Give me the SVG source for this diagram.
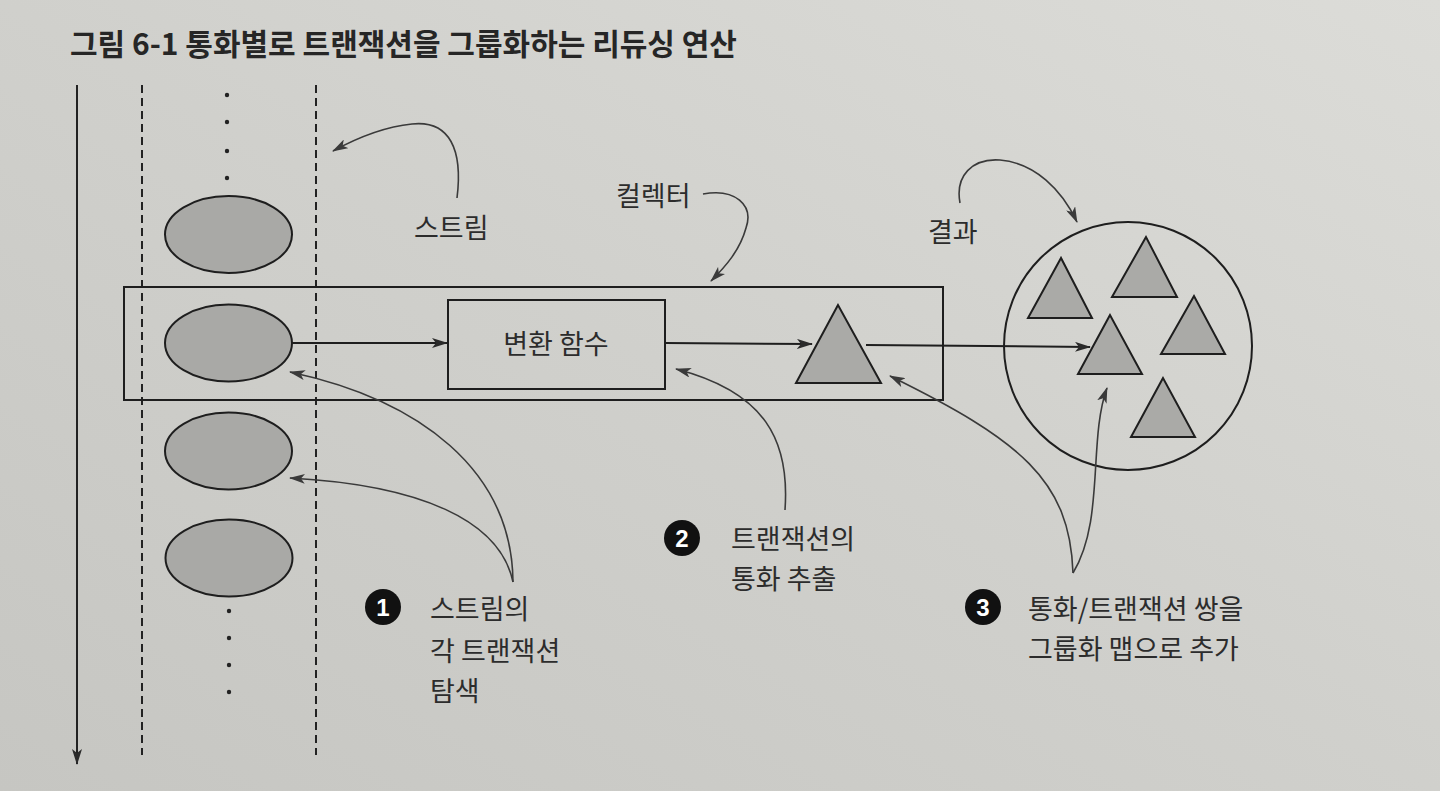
<svg xmlns="http://www.w3.org/2000/svg" width="1440" height="791" viewBox="0 0 1440 791">
<defs>
<linearGradient id="bg" x1="0" y1="1" x2="1" y2="0">
<stop offset="0" stop-color="#c6c6c2"/>
<stop offset="0.5" stop-color="#d0d0cc"/>
<stop offset="1" stop-color="#dcdcd8"/>
</linearGradient>
<marker id="ah" markerUnits="userSpaceOnUse" markerWidth="16" markerHeight="10" refX="15" refY="5" orient="auto">
<path d="M0,0 L16,5 L0,10 L4,5 Z" fill="#2a2a2a"/>
</marker>
<marker id="ahs" markerUnits="userSpaceOnUse" markerWidth="16" markerHeight="10" refX="15" refY="5" orient="auto">
<path d="M0,0 L16,5 L0,10 L4,5 Z" fill="#3a3a3a"/>
</marker>
</defs>
<style>
.t{font-family:"Noto Sans CJK KR","Noto Sans",sans-serif;fill:#2c2c2c;font-size:27px}
.title{font-family:"Noto Sans CJK KR","Liberation Sans",sans-serif;font-weight:bold;font-size:30px;fill:#262626}
.num{font-family:"Liberation Sans",sans-serif;font-weight:bold;font-size:24px;fill:#ffffff}
.ell{fill:#a9a9a6;stroke:#1e1e1e;stroke-width:2}
.tri{fill:#aaaaa7;stroke:#1e1e1e;stroke-width:2}
.box{fill:none;stroke:#1e1e1e;stroke-width:2}
.dash{stroke:#222;stroke-width:2;stroke-dasharray:8,5;fill:none}
.flow{stroke:#1e1e1e;stroke-width:2;fill:none;marker-end:url(#ah)}
.curve{stroke:#3a3a3a;stroke-width:1.6;fill:none;marker-end:url(#ahs)}
.dot{fill:#222}
</style>
<rect x="0" y="0" width="1440" height="791" fill="url(#bg)"/>
<text class="title" x="70" y="55">그림 6-1 통화별로 트랜잭션을 그룹화하는 리듀싱 연산</text>

<g id="time-axis">
<line x1="77" y1="85" x2="77" y2="764" stroke="#222" stroke-width="2" marker-end="url(#ah)"/>
</g>
<g id="stream">
<line class="dash" x1="142" y1="85" x2="142" y2="755"/>
<line class="dash" x1="316" y1="85" x2="316" y2="755"/>
<circle class="dot" cx="227" cy="95" r="2.2"/>
<circle class="dot" cx="227" cy="122" r="2.2"/>
<circle class="dot" cx="227" cy="151" r="2.2"/>
<circle class="dot" cx="227" cy="178" r="2.2"/>
<circle class="dot" cx="229" cy="611" r="2.2"/>
<circle class="dot" cx="229" cy="638" r="2.2"/>
<circle class="dot" cx="229" cy="665" r="2.2"/>
<circle class="dot" cx="229" cy="692" r="2.2"/>
</g>
<g id="transaction-1"><ellipse class="ell" cx="228.5" cy="234.5" rx="63.5" ry="38.5"/></g>
<g id="transaction-2"><ellipse class="ell" cx="228.5" cy="343" rx="63.5" ry="38.5"/></g>
<g id="transaction-3"><ellipse class="ell" cx="228.5" cy="451" rx="63.5" ry="38.5"/></g>
<g id="transaction-4"><ellipse class="ell" cx="229" cy="558" rx="63.5" ry="38.5"/></g>

<g id="collector"><rect class="box" x="124" y="287" width="819" height="113"/></g>
<g id="transform">
<rect class="box" x="448" y="300" width="217" height="89"/>
<text class="t" x="556" y="354" text-anchor="middle">변환 함수</text>
</g>
<g id="currency"><polygon class="tri" points="838,305 796,383 881,383"/></g>

<g id="result">
<circle cx="1128" cy="346" r="124" fill="none" stroke="#1e1e1e" stroke-width="2"/>
<polygon class="tri" points="1061,258 1028,318 1092,318"/>
<polygon class="tri" points="1146,237 1112,297 1177,297"/>
<polygon class="tri" points="1194,296 1161,354 1225,354"/>
<polygon class="tri" points="1110,315 1078,374 1142,374"/>
<polygon class="tri" points="1163,378 1131,437 1195,437"/>
</g>

<g id="labels">
<text class="t" x="414" y="238">스트림</text>
<text class="t" x="616" y="206">컬렉터</text>
<text class="t" x="928" y="242">결과</text>
</g>

<g id="callout-1">
<circle cx="383" cy="607" r="18" fill="#111"/>
<text class="num" x="383" y="616" text-anchor="middle">1</text>
<text class="t" x="430" y="619">스트림의</text>
<text class="t" x="430" y="661">각 트랜잭션</text>
<text class="t" x="430" y="701">탐색</text>
</g>
<g id="callout-2">
<circle cx="682" cy="538" r="18" fill="#111"/>
<text class="num" x="682" y="547" text-anchor="middle">2</text>
<text class="t" x="731" y="549">트랜잭션의</text>
<text class="t" x="731" y="589">통화 추출</text>
</g>
<g id="callout-3">
<circle cx="983" cy="607" r="18" fill="#111"/>
<text class="num" x="983" y="616" text-anchor="middle">3</text>
<text class="t" x="1028" y="619">통화/트랜잭션 쌍을</text>
<text class="t" x="1028" y="659">그룹화 맵으로 추가</text>
</g>

<g id="connectors">
<line class="flow" x1="292" y1="343" x2="447" y2="343"/>
<line class="flow" x1="665" y1="343" x2="812" y2="344"/>
<line class="flow" x1="866" y1="345" x2="1090" y2="347"/>
<path class="curve" d="M457,198 C463,150 450,120 412,124 C382,127 355,139 333,151"/>
<path class="curve" d="M703,194 C735,188 754,205 746,228 C740,250 726,266 711,281"/>
<path class="curve" d="M960,203 C955,176 972,158 1000,160 C1035,163 1062,190 1077,222"/>
<path class="curve" d="M513,582 C512,470 420,400 290,372"/>
<path class="curve" d="M513,582 C500,520 420,485 290,478"/>
<path class="curve" d="M785,510 C790,440 765,392 676,369"/>
<path class="curve" d="M1073,573 C1070,480 1020,440 890,376"/>
<path class="curve" d="M1073,573 C1105,520 1088,440 1107,388"/>
</g>
</svg>
